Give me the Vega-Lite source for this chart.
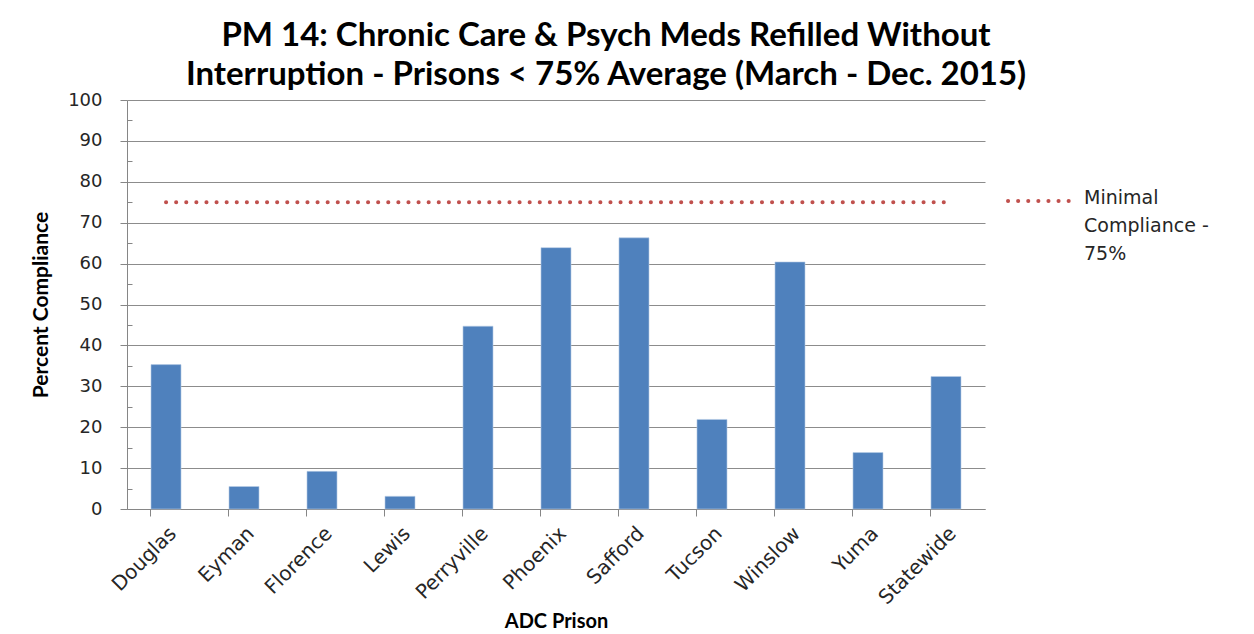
{
  "$schema": "https://vega.github.io/schema/vega-lite/v6.json",
  "autosize": "none",
  "width": 858,
  "height": 409,
  "padding": {"left": 127, "top": 100, "right": 269, "bottom": 125},
  "background": "white",
  "title": {
    "text": ["PM 14: Chronic Care & Psych Meds Refilled Without", "Interruption - Prisons < 75% Average (March - Dec. 2015)"],
    "font": "Lato",
    "fontSize": 33,
    "fontWeight": "bold",
    "color": "#000000",
    "lineHeight": 39,
    "anchor": "middle",
    "dx": 50,
    "offset": -1
  },
  "config": {
    "view": {"stroke": null},
    "font": "DejaVu Sans"
  },
  "data": {
    "values": [
      {"prison": "Douglas", "value": 35.3},
      {"prison": "Eyman", "value": 5.5},
      {"prison": "Florence", "value": 9.2},
      {"prison": "Lewis", "value": 3.1},
      {"prison": "Perryville", "value": 44.7},
      {"prison": "Phoenix", "value": 63.9},
      {"prison": "Safford", "value": 66.3},
      {"prison": "Tucson", "value": 21.9},
      {"prison": "Winslow", "value": 60.4},
      {"prison": "Yuma", "value": 13.8},
      {"prison": "Statewide", "value": 32.4}
    ]
  },
  "layer": [
    {
      "mark": {"type": "bar", "color": "#4F81BD", "stroke": "#B9CDE5", "strokeWidth": 0.6},
      "encoding": {
        "x": {
          "field": "prison",
          "type": "nominal",
          "sort": null,
          "scale": {"paddingInner": 0.615, "paddingOuter": 0.3077},
          "axis": {
            "orient": "bottom",
            "title": "ADC Prison",
            "titleFont": "Lato",
            "titleFontSize": 20,
            "titleFontWeight": "bold",
            "titleColor": "#000000",
            "titleY": 112,
            "titleBaseline": "middle",
            "labelAngle": -45,
            "labelFont": "DejaVu Sans",
            "labelFontSize": 20,
            "labelColor": "#262626",
            "labelPadding": 14,
            "ticks": false,
            "domain": true,
            "domainColor": "#868686",
            "grid": false
          }
        },
        "y": {
          "field": "value",
          "type": "quantitative",
          "scale": {"domain": [0, 100], "nice": false},
          "axis": {
            "title": "Percent Compliance",
            "titleFont": "Lato",
            "titleFontSize": 21,
            "titleFontWeight": "bold",
            "titleColor": "#000000",
            "titleX": -76,
            "values": [0, 10, 20, 30, 40, 50, 60, 70, 80, 90, 100],
            "labelFont": "DejaVu Sans",
            "labelFontSize": 18,
            "labelColor": "#262626",
            "labelPadding": 18,
            "tickSize": 7,
            "tickColor": "#868686",
            "domainColor": "#868686",
            "grid": true,
            "gridColor": "#8C8C8C",
            "gridWidth": 1
          }
        }
      }
    },
    {
      "mark": {"type": "line", "strokeDash": [0.1, 10], "strokeCap": "round", "strokeWidth": 4},
      "encoding": {
        "x": {
          "field": "prison",
          "type": "nominal",
          "sort": null,
          "axis": {
            "orient": "bottom",
            "title": null,
            "labels": false,
            "domain": false,
            "grid": false,
            "bandPosition": 0,
            "ticks": true,
            "tickSize": 7,
            "tickColor": "#868686"
          }
        },
        "y": {
          "datum": 75,
          "type": "quantitative",
          "axis": {
            "orient": "left",
            "title": null,
            "labels": false,
            "domain": false,
            "grid": false,
            "values": [5, 15, 25, 35, 45, 55, 65, 75, 85, 95],
            "tickSize": -5,
            "tickColor": "#868686"
          }
        },
        "color": {
          "datum": "Minimal Compliance - 75%",
          "type": "nominal",
          "scale": {"range": ["#C0504D"]},
          "legend": {
            "title": null,
            "orient": "none",
            "legendX": 879,
            "legendY": 67,
            "symbolType": "stroke",
            "symbolSize": 4096,
            "symbolStrokeWidth": 4,
            "symbolDash": [0.1, 10],
            "labelExpr": "['Minimal', 'Compliance -', '75%']",
            "labelFont": "DejaVu Sans",
            "labelFontSize": 19,
            "labelColor": "#262626",
            "labelOffset": 10,
            "labelLimit": 300,
            "encode": {
              "symbols": {"update": {"strokeCap": {"value": "round"}}},
              "labels": {"update": {"baseline": {"value": "top"}, "dy": {"value": -12}, "lineHeight": {"value": 28}}}
            }
          }
        }
      }
    }
  ],
  "resolve": {"axis": {"x": "independent", "y": "independent"}}
}
